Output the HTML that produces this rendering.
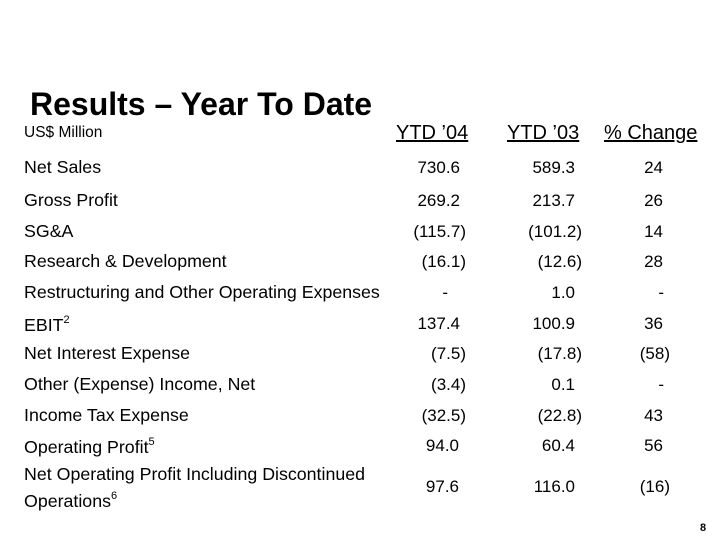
<!DOCTYPE html>
<html><head><meta charset="utf-8"><style>
body{margin:0;width:720px;height:540px;background:#fff;position:relative;overflow:hidden;font-family:"Liberation Sans",Arial,sans-serif;color:#000}
div{position:absolute;white-space:nowrap;line-height:1}
.l{left:24px;font-size:17.8px}
.n{font-size:17px;text-align:right}
.h{font-size:20px;text-decoration:underline;top:123px}
sup{font-size:11px;vertical-align:8px}
</style></head><body>
<div style="left:30px;top:88px;font-size:32px;font-weight:bold">Results – Year To Date</div>
<div style="left:24px;top:125px;font-size:15.5px">US$ Million</div>
<div class="h" style="left:396px">YTD ’04</div>
<div class="h" style="left:507px">YTD ’03</div>
<div class="h" style="left:604px">% Change</div>

<div class="l" style="top:159px">Net Sales</div>
<div class="l" style="top:192px">Gross Profit</div>
<div class="l" style="top:223px">SG&amp;A</div>
<div class="l" style="top:253px">Research &amp; Development</div>
<div class="l" style="top:284px">Restructuring and Other Operating Expenses</div>
<div class="l" style="top:315px">EBIT<sup>2</sup></div>
<div class="l" style="top:345px">Net Interest Expense</div>
<div class="l" style="top:376px">Other (Expense) Income, Net</div>
<div class="l" style="top:407px">Income Tax Expense</div>
<div class="l" style="top:437px">Operating Profit<sup>5</sup></div>
<div class="l" style="top:463px;line-height:22px">Net Operating Profit Including Discontinued<br>Operations<sup>6</sup></div>

<div class="n" style="top:159px;right:260px">730.6</div><div class="n" style="top:159px;right:145px">589.3</div><div class="n" style="top:159px;right:57px">24</div>
<div class="n" style="top:192px;right:260px">269.2</div><div class="n" style="top:192px;right:145px">213.7</div><div class="n" style="top:192px;right:57px">26</div>
<div class="n" style="top:223px;right:254px">(115.7)</div><div class="n" style="top:223px;right:138px">(101.2)</div><div class="n" style="top:223px;right:57px">14</div>
<div class="n" style="top:253px;right:254px">(16.1)</div><div class="n" style="top:253px;right:138px">(12.6)</div><div class="n" style="top:253px;right:57px">28</div>
<div class="n" style="top:284px;right:272px">-</div><div class="n" style="top:284px;right:145px">1.0</div><div class="n" style="top:284px;right:56px">-</div>
<div class="n" style="top:315px;right:260px">137.4</div><div class="n" style="top:315px;right:145px">100.9</div><div class="n" style="top:315px;right:57px">36</div>
<div class="n" style="top:345px;right:254px">(7.5)</div><div class="n" style="top:345px;right:138px">(17.8)</div><div class="n" style="top:345px;right:50px">(58)</div>
<div class="n" style="top:376px;right:254px">(3.4)</div><div class="n" style="top:376px;right:145px">0.1</div><div class="n" style="top:376px;right:56px">-</div>
<div class="n" style="top:407px;right:254px">(32.5)</div><div class="n" style="top:407px;right:138px">(22.8)</div><div class="n" style="top:407px;right:57px">43</div>
<div class="n" style="top:437px;right:261px">94.0</div><div class="n" style="top:437px;right:145px">60.4</div><div class="n" style="top:437px;right:57px">56</div>
<div class="n" style="top:478px;right:261px">97.6</div><div class="n" style="top:478px;right:145px">116.0</div><div class="n" style="top:478px;right:50px">(16)</div>

<div style="left:700px;top:523px;font-size:11px;font-weight:bold">8</div>
</body></html>
